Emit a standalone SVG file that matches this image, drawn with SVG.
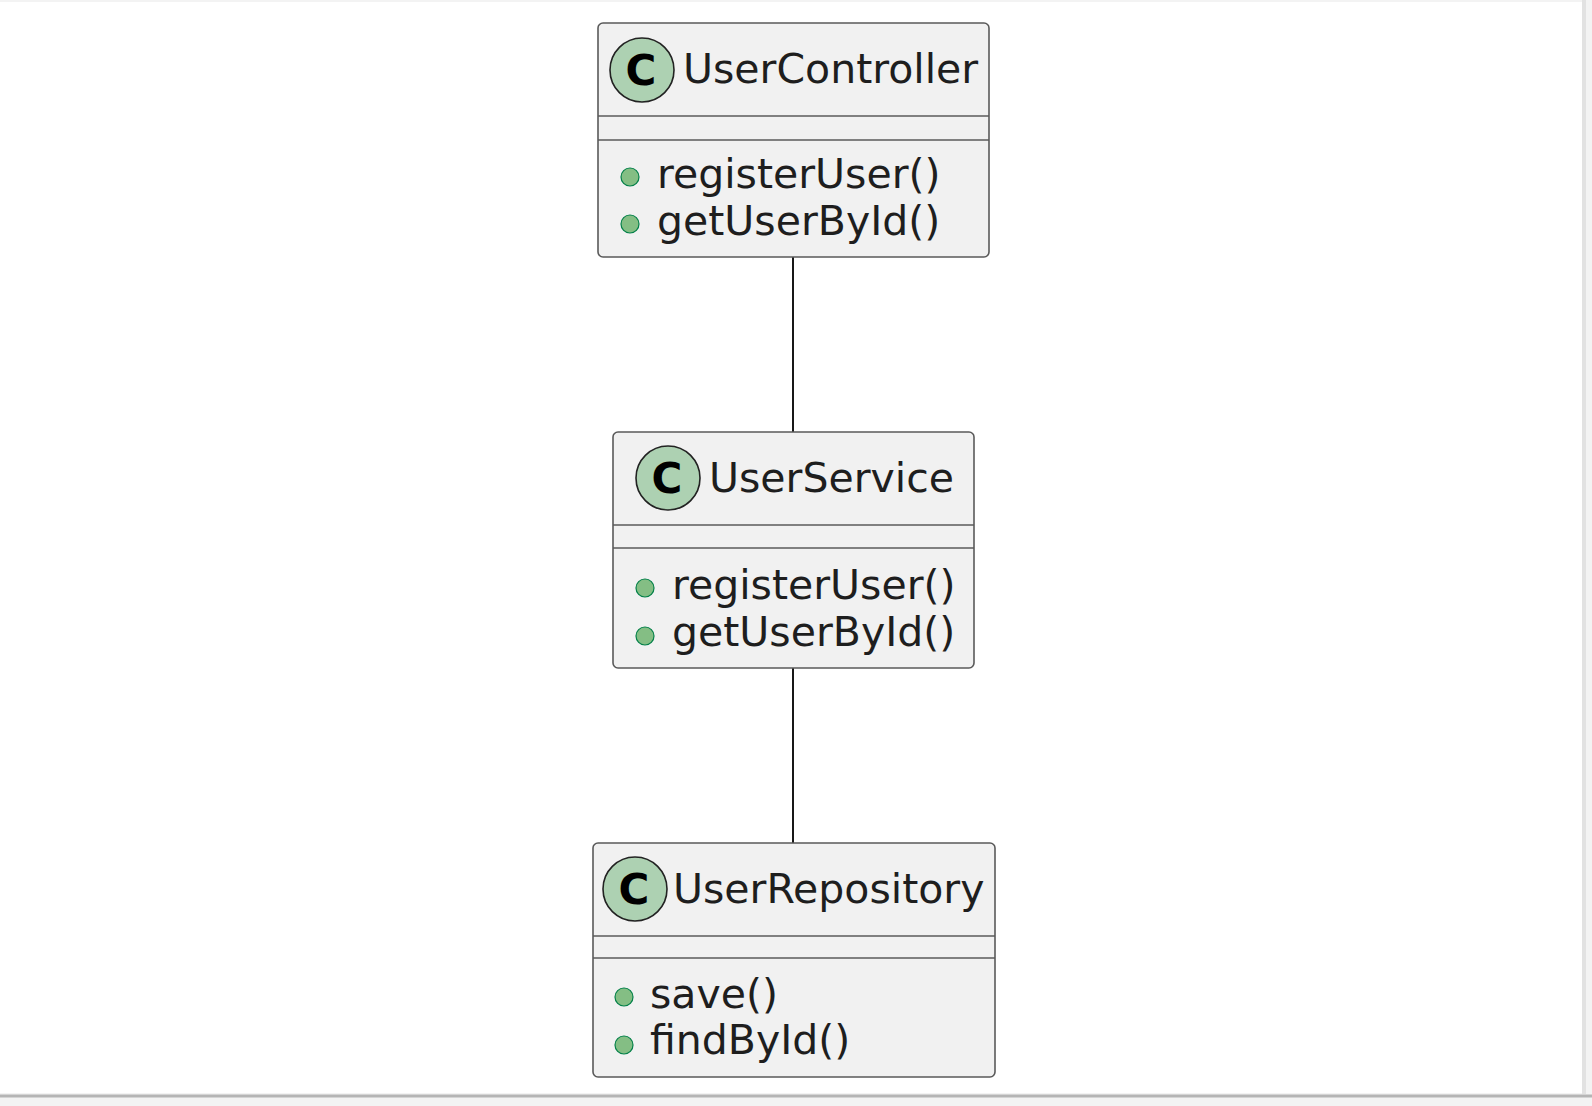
<svg xmlns="http://www.w3.org/2000/svg" width="1592" height="1106" viewBox="0 0 1592 1106">
<style>
.box{fill:#F1F1F1;stroke:#5a5a5a;stroke-width:1.6}
.div{stroke:#5a5a5a;stroke-width:1.6}
.ci{fill:#ADD1B2;stroke:#222;stroke-width:1.6}
.cl{font-family:"DejaVu Sans",sans-serif;font-weight:bold;font-size:42px;fill:#000;text-anchor:middle}
.t{font-family:"DejaVu Sans",sans-serif;font-size:41px;fill:#1e1e1e}
.b{fill:#84BE84;stroke:#038048;stroke-width:1.2}
.edge{stroke:#181818;stroke-width:2;fill:none}
</style>
<rect x="0" y="0" width="1592" height="1106" fill="#f3f3f3"/>
<rect x="0" y="2" width="1582" height="1091" fill="#ffffff"/>
<line x1="0" y1="1096" x2="1592" y2="1096" stroke="#b5b5b5" stroke-width="3"/>
<line x1="1584" y1="0" x2="1584" y2="1094" stroke="#e2e2e2" stroke-width="4"/>
<g id="connectors">
<line class="edge" x1="793" y1="257" x2="793" y2="432"/>
<line class="edge" x1="793" y1="668" x2="793" y2="843"/>
</g>
<g id="UserController">
<rect class="box" x="598" y="23" width="391" height="234" rx="5"/>
<line class="div" x1="598" y1="116" x2="989" y2="116"/>
<line class="div" x1="598" y1="140" x2="989" y2="140"/>
<circle class="ci" cx="642" cy="70" r="32"/>
<text class="cl" x="641" y="85">C</text>
<text class="t" x="683" y="83">UserController</text>
<circle class="b" cx="630" cy="177" r="9"/>
<text class="t" x="657" y="188">registerUser()</text>
<circle class="b" cx="630" cy="224" r="9"/>
<text class="t" x="657" y="235">getUserById()</text>
</g>
<g id="UserService">
<rect class="box" x="613" y="432" width="361" height="236" rx="5"/>
<line class="div" x1="613" y1="525" x2="974" y2="525"/>
<line class="div" x1="613" y1="548" x2="974" y2="548"/>
<circle class="ci" cx="668" cy="478" r="32"/>
<text class="cl" x="667" y="493">C</text>
<text class="t" x="709" y="492">UserService</text>
<circle class="b" cx="645" cy="588" r="9"/>
<text class="t" x="672" y="599">registerUser()</text>
<circle class="b" cx="645" cy="636" r="9"/>
<text class="t" x="672" y="646">getUserById()</text>
</g>
<g id="UserRepository">
<rect class="box" x="593" y="843" width="402" height="234" rx="5"/>
<line class="div" x1="593" y1="936" x2="995" y2="936"/>
<line class="div" x1="593" y1="958" x2="995" y2="958"/>
<circle class="ci" cx="635" cy="889" r="32"/>
<text class="cl" x="634" y="904">C</text>
<text class="t" x="673" y="903">UserRepository</text>
<circle class="b" cx="624" cy="997" r="9"/>
<text class="t" x="650" y="1008">save()</text>
<circle class="b" cx="624" cy="1045" r="9"/>
<text class="t" x="650" y="1054">findById()</text>
</g>
</svg>
